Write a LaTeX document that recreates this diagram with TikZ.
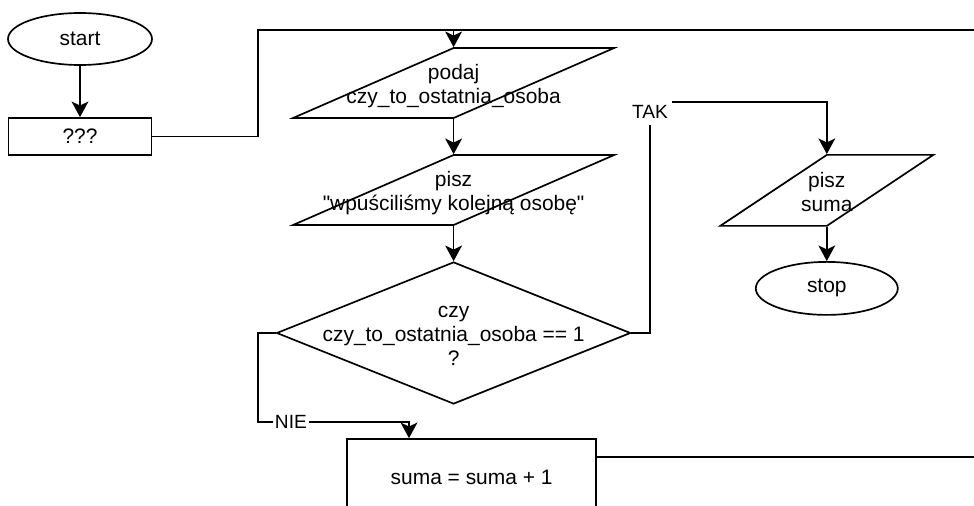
\documentclass[tikz,border=0pt]{standalone}
\usepackage{fontspec}
\setmainfont{Liberation Sans}
\usetikzlibrary{positioning,arrows.meta,shapes.geometric,calc}
\newcommand{\cbox}[2][2.3pt]{\makebox[0pt]{\raisebox{#1}[0.5pt][0.5pt]{\begin{tabular}[t]{@{}c@{}}#2\end{tabular}}}}
\tikzset{
  base/.style={draw=black,line width=1.2pt,fill=white,font=\fontsize{14.9}{17}\selectfont,inner sep=0pt},
  term/.style={base,ellipse,minimum width=3.6cm,minimum height=1.3cm},
  proc/.style={base,rectangle,minimum width=3.575cm,minimum height=0.925cm},
  io/.style={base,trapezium,trapezium left angle=63,trapezium right angle=117,trapezium stretches=true,minimum width=8.025cm,minimum height=1.75cm},
  decision/.style={base,diamond,minimum width=8.85cm,minimum height=3.55cm},
  edge/.style={-{Stealth[length=3.9mm,width=4.2mm,inset=1mm]},line width=1.2pt},
  wire/.style={line width=1.2pt},
  lbl/.style={fill=white,font=\fontsize{13.6}{16}\selectfont,inner xsep=2.8pt,inner ysep=4.3pt}
}

\begin{document}
\begin{tikzpicture}
  \useasboundingbox (0,0) rectangle (24.35,-12.65);
  \node[term] (start) at (2.0,-0.975) {start};
  \node[proc] (ask) at (2.0,-3.4125) {???};
  \node[io] (podaj) at (11.34,-2.075) {\cbox{podaj\\czy\_to\_ostatnia\_osoba}};
  \node[io] (pisz) at (11.34,-4.75) {\cbox{pisz\\\textquotedbl wpuściliśmy kolejną osobę\textquotedbl}};
  \node[decision] (cond) at (11.34,-8.325) {\cbox[10.8pt]{czy\\czy\_to\_ostatnia\_osoba == 1\\?}};
  \node[proc,minimum width=6.225cm,minimum height=1.9cm] (suma) at (11.79,-11.925) {suma = suma + 1};
  \node[io,minimum width=5.325cm,minimum height=1.775cm] (wynik) at (20.67,-4.76) {\cbox{pisz\\suma}};
  \node[term,minimum width=3.55cm,minimum height=1.325cm] (stop) at (20.67,-7.21) {stop};

  \coordinate (jn) at (6.45,-0.75);
  \coordinate (rhi) at (24.35,-0.75);
  \coordinate (rlo) at (24.35,-11.425);
  \coordinate (nl) at (6.45,-10.55);
  \coordinate (nie) at (10.225,-10.55);
  \coordinate (tk) at (16.25,-2.55);

  \draw[edge] (start) -- (ask);
  \draw[wire] (ask.east) -| (jn) -- (rhi);
  \draw[edge] (podaj.north |- jn) -- (podaj);
  \draw[edge] (podaj) -- (pisz);
  \draw[edge] (pisz) -- (cond);
  \draw[edge] (cond.west) -| (nl) -- node[lbl,pos=0.218,inner xsep=1.4pt] {NIE} (nie) -- (nie |- suma.north);
  \draw[edge] (cond.east) -| (tk) -| (wynik.north);
  \node[lbl] (tak) at ($(tk)+(0,-0.25)$) {TAK};
  \draw[edge] (wynik) -- (stop);
  \draw[wire] (suma.east |- rlo) -- (rlo);
\end{tikzpicture}
\end{document}
